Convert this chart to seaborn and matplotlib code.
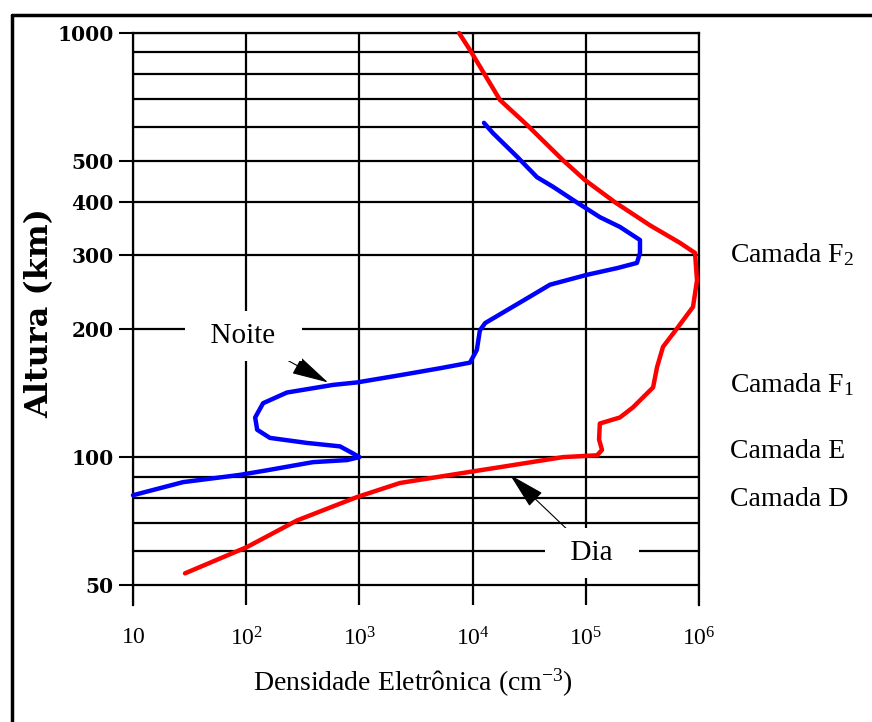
import numpy as np
import pandas as pd
import matplotlib
matplotlib.use("Agg")
import matplotlib.pyplot as plt
from matplotlib.lines import Line2D
import seaborn as sns

# ---- data ----
dia_density = [7590, 9480, 17460, 30270, 62950, 98400, 181000, 369000, 679000,
               922000, 960000, 885000, 639000, 481000, 426000, 393000, 261000, 200000,
               133000, 131000, 139000, 126000, 63000, 17500, 9480, 2285, 952, 281, 102, 28.8]
dia_height = [1000, 912, 695, 607, 501, 450, 399, 352, 320,
              303, 261, 226, 201, 182, 163, 146, 131, 124,
              120, 110, 104, 101, 100, 94.7, 92.3, 86.9, 80.5, 70.9, 61.4, 53.2]

noite_density = [12600, 15100, 24700, 37100, 51300, 77100, 133000, 200000, 301000,
                 301000, 283000, 189000, 102000, 48300, 32100, 20100, 12900, 11600,
                 10900, 9480, 5150, 2285, 952, 585, 229, 141, 120, 125, 162, 344,
                 674, 878, 1000, 777, 389, 153, 88, 27.7, 10]
noite_height = [614, 581, 511, 457, 434, 404, 368, 349, 325,
                303, 287, 279, 269, 255, 239, 222, 207, 199,
                179, 167, 162, 156, 150, 148, 142, 134, 124, 116, 111, 108,
                106, 102, 100, 98.4, 97.3, 93.1, 90.8, 87.3, 81.3]

x_ticks = [10, 1e2, 1e3, 1e4, 1e5, 1e6]
x_tick_labels = [r'$\mathregular{10}$', r'$\mathregular{10^2}$', r'$\mathregular{10^3}$',
                 r'$\mathregular{10^4}$', r'$\mathregular{10^5}$', r'$\mathregular{10^6}$']
y_ticks = [50, 100, 200, 300, 400, 500, 1000]
y_tick_labels = ['50', '100', '200', '300', '400', '500', '1000']
y_grid_minor = [60, 70, 80, 90, 600, 700, 800, 900]

layer_labels = [r'Camada F$_\mathregular{2}$', r'Camada F$_\mathregular{1}$', 'Camada E', 'Camada D']
layer_heights = [300, 148, 103, 79.3]

# ---- style ----
sns.set_style("white")
plt.rcParams['font.family'] = ['Liberation Serif', 'DejaVu Serif']
plt.rcParams['mathtext.fontset'] = 'custom'
plt.rcParams['mathtext.rm'] = 'Liberation Serif'
plt.rcParams['mathtext.it'] = 'Liberation Serif:italic'
for k in ['text.color', 'axes.labelcolor', 'xtick.color', 'ytick.color']:
    plt.rcParams[k] = 'black'

fig = plt.figure(figsize=(8.72, 7.22), dpi=100)
ax = fig.add_axes([133/872, 1 - 605/722, 566/872, 572/722])

dia = pd.DataFrame({'dens': dia_density, 'alt': dia_height})
noite = pd.DataFrame({'dens': noite_density, 'alt': noite_height})

sns.lineplot(data=dia, x='dens', y='alt', sort=False, estimator=None,
             color='#ff0000', lw=3.2, ax=ax, zorder=5, clip_on=False)
sns.lineplot(data=noite, x='dens', y='alt', sort=False, estimator=None,
             color='#0000ff', lw=3.2, ax=ax, zorder=5, clip_on=False)

ax.set_xscale('log')
ax.set_yscale('log')
ax.set_xlim(10, 1e6)
ax.set_ylim(44.8, 1000)

ax.set_xticks(x_ticks)
ax.set_xticklabels(x_tick_labels, fontsize=17)
ax.xaxis.set_minor_locator(matplotlib.ticker.NullLocator())
ax.tick_params(axis='x', which='major', length=0, pad=16)

ax.set_yticks(y_ticks)
ax.set_yticklabels(y_tick_labels, fontsize=14.5, fontweight='bold', family='DejaVu Serif')
ax.set_yticks(y_grid_minor, minor=True)
ax.yaxis.set_minor_formatter(matplotlib.ticker.NullFormatter())
ax.tick_params(axis='y', which='major', length=10, width=1.5, pad=4, left=True, direction='out')
ax.tick_params(axis='y', which='minor', length=0)

ax.grid(True, which='both', axis='y', color='black', lw=1.6)
ax.grid(True, which='major', axis='x', color='black', lw=1.6)
ax.set_axisbelow(True)

for s in ['left', 'top', 'right']:
    ax.spines[s].set_visible(True)
    ax.spines[s].set_color('black')
    ax.spines[s].set_linewidth(1.6)
ax.spines['bottom'].set_visible(False)
ax.set_xlabel('')
ax.set_ylabel('')

# annotations
ax.annotate('  Noite  ', xy=(528, 150), xytext=(93.8, 193), fontsize=21,
            ha='center', va='center', zorder=6,
            bbox=dict(boxstyle='square,pad=0.4', fc='white', ec='none'),
            arrowprops=dict(arrowstyle='-|>,head_length=1.3,head_width=0.33',
                            color='black', lw=0.8, shrinkA=0, shrinkB=0,
                            mutation_scale=18))
ax.annotate('  Dia  ', xy=(21400, 90.8), xytext=(113500, 59.4), fontsize=21,
            ha='center', va='center', zorder=6,
            bbox=dict(boxstyle='square,pad=0.4', fc='white', ec='none'),
            arrowprops=dict(arrowstyle='-|>,head_length=1.3,head_width=0.33',
                            color='black', lw=0.8, shrinkA=0, shrinkB=0,
                            mutation_scale=18))

for lab, h in zip(layer_labels, layer_heights):
    ax.text(1.055, h, lab, transform=ax.get_yaxis_transform(), fontsize=20,
            ha='left', va='center', clip_on=False)

fig.text(40/872, 1 - 313/722, 'Altura (km)', rotation=90, fontsize=23,
         fontweight='bold', family='DejaVu Serif', ha='center', va='center')
fig.text(413/872, 1 - 683/722, r'Densidade Eletrônica (cm$^\mathregular{-3}$)',
         fontsize=20, ha='center', va='center')

# outer frame (top and left edges)
fig.add_artist(Line2D([12/872, 1], [1 - 15/722, 1 - 15/722], transform=fig.transFigure,
                      color='black', lw=2.5))
fig.add_artist(Line2D([12/872, 12/872], [0, 1 - 15/722], transform=fig.transFigure,
                      color='black', lw=2.5))

fig.savefig('out.png', dpi=100)
